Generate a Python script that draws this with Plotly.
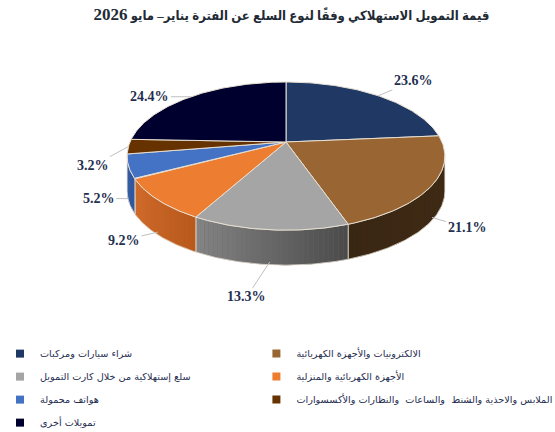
import numpy as np
import plotly.graph_objects as go

# data
labels = ['شراء سيارات ومركبات',
          'الالكترونيات والأجهزة الكهربائية',
          'سلع إستهلاكية من خلال كارت التمويل',
          'الأجهزة الكهربائية والمنزلية',
          'هواتف محمولة',
          'الملابس والاحذية والشنط  والساعات  والنظارات والأكسسوارات',
          'تمويلات أخرى']
values = [23.6, 21.1, 13.3, 9.2, 5.2, 3.2, 24.4]
legend_col = ['legend', 'legend2', 'legend', 'legend2', 'legend', 'legend2', 'legend']

top_colors = ['#1f3864', '#996633', '#a5a5a5', '#ed7d31', '#4472c4', '#663300', '#00002e']
# side wall shading (right end, left end)
wall_colors = [('#1a2f55', '#1a2f55'), ('#402b16', '#3a2713'), ('#4a4a4a', '#858585'),
               ('#b8591c', '#d26d2c'), ('#2f5597', '#3a63b0'), ('#4f2800', '#4f2800'),
               ('#000020', '#000020')]

# label offsets in px (text relative to leader start)
lab_dx = [35, 35, -23, -34, -30, -35, -41]
lab_dy = [-15, 10, 35, 8, 0, 19, 0]

# pie geometry (pixels, tilted disk with a bit of perspective)
cx, cy = 286, 142
A, B, K = 156, 71.4, 0.19
DEPTH = 35
edge = '#e6dfd2'


def rim(deg):
    t = np.radians(deg)
    u, v = np.sin(t), np.cos(t)
    w = 1 + K * v
    return cx + A * u / w, cy - B * v / w


def mix(c1, c2, f):
    a = [int(c1[i:i + 2], 16) for i in (1, 3, 5)]
    b = [int(c2[i:i + 2], 16) for i in (1, 3, 5)]
    return 'rgb(%d,%d,%d)' % tuple(round(a[k] + (b[k] - a[k]) * f) for k in range(3))


vis_lo = np.degrees(np.arccos(-K))
vis_hi = 360 - vis_lo

tot = sum(values)
ends = np.cumsum(values) / tot * 360
starts = np.concatenate([[0], ends[:-1]])

fig = go.Figure()

# side walls (front only)
for i in range(len(values)):
    a, b = max(starts[i], vis_lo), min(ends[i], vis_hi)
    if a >= b:
        continue
    s = np.linspace(a, b, 80)
    xs, ys = rim(s)
    wx = np.concatenate([xs, xs[::-1], xs[:1]])
    wy = np.concatenate([ys, ys[::-1] + DEPTH, ys[:1]])
    base = mix(wall_colors[i][0], wall_colors[i][1], 0.5)
    fig.add_trace(go.Scatter(x=wx, y=wy, mode='lines', fill='toself', fillcolor=base,
                             line=dict(color=base, width=0), hoverinfo='skip', showlegend=False))
    n = max(2, int((b - a) / 1.5))
    cuts = np.linspace(a, b, n + 1)
    for j in range(n):
        s = np.linspace(cuts[j], cuts[j + 1], 6)
        xs, ys = rim(s)
        col = mix(wall_colors[i][0], wall_colors[i][1], ((cuts[j] + cuts[j + 1]) / 2 - a) / (b - a))
        fig.add_trace(go.Scatter(x=np.concatenate([xs, xs[::-1]]),
                                 y=np.concatenate([ys, ys[::-1] + DEPTH]),
                                 mode='lines', fill='toself', fillcolor=col,
                                 line=dict(width=0), hoverinfo='skip', showlegend=False))
    fig.add_trace(go.Scatter(x=wx, y=wy, mode='lines', line=dict(color=edge, width=0.8),
                             hoverinfo='skip', showlegend=False))

# top faces
for i in range(len(values)):
    s = np.linspace(starts[i], ends[i], 90)
    xs, ys = rim(s)
    fig.add_trace(go.Scatter(x=np.concatenate([[cx], xs, [cx]]), y=np.concatenate([[cy], ys, [cy]]),
                             mode='lines', fill='toself', fillcolor=top_colors[i],
                             line=dict(color=edge, width=1), name=labels[i],
                             hovertemplate='%{fullData.name}<extra></extra>', showlegend=False))

# legend entries, two columns
for i in range(len(values)):
    fig.add_trace(go.Scatter(x=[None], y=[None], mode='markers', name=labels[i],
                             legend=legend_col[i], legendgroup='g%d' % i,
                             marker=dict(symbol='square', size=8, color=top_colors[i])))

# percentage labels with leader lines
for i in range(len(values)):
    mid = (starts[i] + ends[i]) / 2
    x0, y0 = rim(mid)
    if vis_lo < mid < vis_hi:
        y0 = y0 + DEPTH * 0.92
    fig.add_annotation(x=x0, y=y0, ax=lab_dx[i], ay=lab_dy[i], text='<b>%.1f%%</b>' % values[i],
                       showarrow=True, arrowhead=0, arrowwidth=1, arrowcolor='#bfbfbf', standoff=0,
                       font=dict(family='Liberation Serif', size=14, color='#1f3050'))

leg_font = dict(family='DejaVu Sans', size=9.7, color='#1f2d4f')
fig.update_layout(
    width=555, height=432, autosize=False,
    margin=dict(l=0, r=0, t=0, b=0, autoexpand=False),
    paper_bgcolor='white', plot_bgcolor='white',
    title=dict(text='<b>قيمة التمويل الاستهلاكي وفقًا لنوع السلع عن الفترة يناير– مايو <span style="font-size:17px">2026</span></b>',
               x=0.525, y=0.965, xanchor='center', yanchor='middle',
               font=dict(family='Liberation Serif, DejaVu Sans Condensed, DejaVu Sans', size=13,
                         color='#222a35')),
    legend=dict(x=0, y=0.215, xref='container', yref='container', xanchor='left', yanchor='top',
                tracegroupgap=4, font=leg_font),
    legend2=dict(x=0.462, y=0.215, xref='container', yref='container', xanchor='left', yanchor='top',
                 tracegroupgap=4, font=leg_font),
    showlegend=True,
)
fig.update_xaxes(range=[0, 555], visible=False, fixedrange=True)
fig.update_yaxes(range=[432, 0], visible=False, fixedrange=True)

fig.write_html("out.html", config={'displayModeBar': False},
               post_script="document.body.style.margin='0';")
